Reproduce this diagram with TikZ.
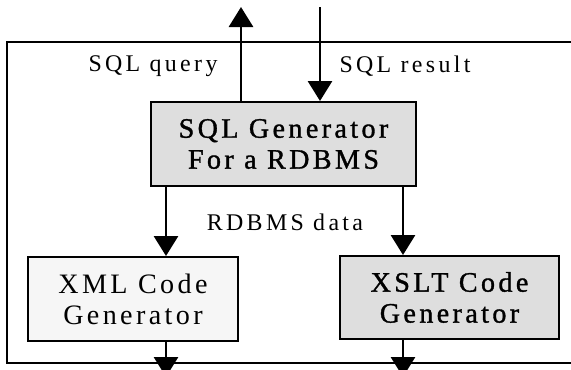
\documentclass[tikz,border=0pt]{standalone}
\usepackage{fontspec}
\setmainfont{Liberation Serif}
\newfontfamily\labelfont[LetterSpace=14]{Liberation Serif}
\newfontfamily\boxfont[LetterSpace=12]{Liberation Serif}
\newfontfamily\heavyboxfont[LetterSpace=12,FakeBold=1.2]{Liberation Serif}
\usetikzlibrary{positioning,calc,arrows.meta}
\definecolor{stipple}{RGB}{222,222,222}
\definecolor{paleStipple}{RGB}{246,246,246}
\tikzset{
    genbox/.style={rectangle, draw=black, line width=1.4pt, align=center, inner sep=0pt,
        font=\boxfont\fontsize{20}{22}\selectfont},
    flow/.style={draw=black, line width=2.1pt, -{Triangle[width=0.6cm,length=0.5cm]}}
}

\begin{document}
\begin{tikzpicture}[
        % --- CHỮ ---
        txt/.style={font=\labelfont\fontsize{17}{20}\selectfont, inner sep=1pt},
        shaded/.style={genbox, fill=stipple, font=\heavyboxfont\fontsize{20}{22}\selectfont},
        plain/.style={genbox, fill=paleStipple}
    ]
    \useasboundingbox (0,0) rectangle (14.275,9.225);
    \clip (0,0) rectangle (14.275,9.225);

    % --- KHUNG NGOÀI (hở bên phải) ---
    \draw[line width=1pt] (14.5,8.175) -- (0.175,8.175) -- (0.175,0.15) -- (14.5,0.15);

    % --- CÁC KHỐI ---
    \node[shaded, minimum width=6.625cm, minimum height=2.1cm] (sqlgen) at (7.0875,5.625)
        {SQL Generator\\ For a RDBMS};
    \node[plain, minimum width=5.25cm, minimum height=2.1cm] (xmlgen) at (3.325,1.75)
        {XML Code\\ Generator};
    \node[shaded, minimum width=5.475cm, minimum height=2.075cm] (xsltgen) at (11.2375,1.7875)
        {XSLT Code\\ Generator};

    % --- ĐẦU MŨI TÊN TỰ DO ---
    \coordinate (queryout) at (6.025,9.05);
    \coordinate (resultin) at (8.0,9.05);
    \coordinate (xmlout) at (4.15,-0.2);
    \coordinate (xsltout) at (10.075,-0.2);

    % --- MŨI TÊN ---
    \draw[flow] (queryout |- sqlgen.north) -- (queryout);
    \draw[flow] (resultin) -- (resultin |- sqlgen.north);
    \draw[flow] (xmlout |- sqlgen.south) -- (xmlout |- xmlgen.north);
    \draw[flow] (xsltout |- sqlgen.south) -- (xsltout |- xsltgen.north);
    \draw[flow] (xmlout |- xmlgen.south) -- (xmlout);
    \draw[flow] (xsltout |- xsltgen.south) -- (xsltout);

    % --- NHÃN ---
    \node[txt] (querylbl) at (3.825,7.575) {SQL query};
    \node[txt] (resultlbl) at (10.125,7.575) {SQL result};
    \node[txt] (datalbl) at (7.125,3.675) {RDBMS data};

\end{tikzpicture}
\end{document}
